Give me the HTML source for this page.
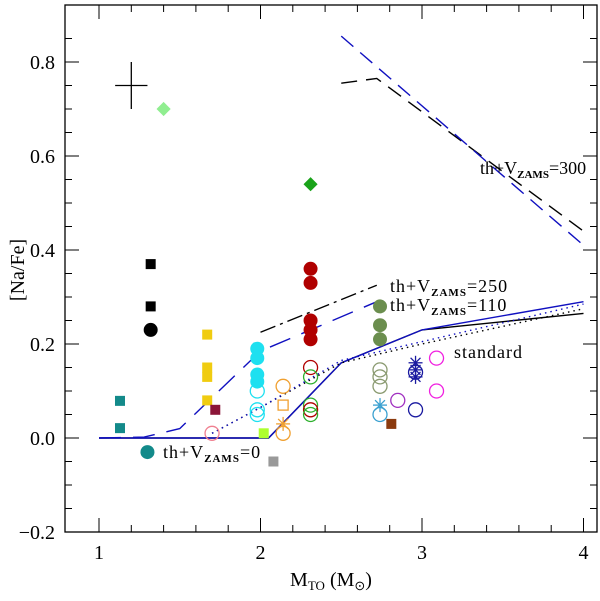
<!DOCTYPE html>
<html><head><meta charset="utf-8"><style>
body{margin:0;background:#fff}
svg{font-family:"Liberation Serif",serif}
</style></head><body>
<svg id="c" width="600" height="596"></svg>
<script>
const xTicks=[1,2,3,4];
const yTicks=[-0.2,0,0.2,0.4,0.6,0.8];
const ptsX=[1.13,1.13,1.32,1.32,1.67,1.67,1.67,1.67,1.72,1.70,1.40,2.31,1.98,1.98,1.98,1.98,1.98,1.98,1.98,2.02,2.08,2.14,2.14,2.14,2.14,2.31,2.31,2.31,2.31,2.31,2.31,2.31,2.31,2.31,2.31,2.74,2.74,2.74,2.74,2.74,2.74,2.74,2.74,2.81,2.85,2.96,2.96,2.96,2.96,2.96,3.09,3.09,1.32,1.30];
const ptsY=[0.079,0.021,0.37,0.28,0.22,0.15,0.13,0.08,0.06,0.01,0.70,0.54,0.19,0.17,0.135,0.12,0.10,0.06,0.05,0.01,-0.05,0.11,0.01,0.07,0.03,0.36,0.33,0.25,0.23,0.21,0.15,0.13,0.07,0.06,0.05,0.28,0.24,0.21,0.145,0.13,0.11,0.07,0.05,0.03,0.08,0.06,0.16,0.145,0.14,0.13,0.17,0.10,0.23,-0.03];
const ptsT=['fs','fs','fs','fs','fs','fs','fs','fs','fs','oc','fd','fd','fc','fc','fc','fc','oc','oc','oc','fs','fs','oc','oc','os','as','fc','fc','fc','fc','fc','oc','oc','oc','oc','oc','fc','fc','fc','oc','oc','oc','as','oc','fs','oc','oc','as','as','oc','as','oc','oc','fc','fc'];
const ptsC=['#138a8a','#138a8a','#000','#000','#f0cc10','#f0cc10','#f0cc10','#f0cc10','#8b1538','#f08090','#90ee90','#1aa31a','#1ee0f0','#1ee0f0','#1ee0f0','#1ee0f0','#1ee0f0','#1ee0f0','#1ee0f0','#adff2f','#999','#f0a030','#f0a030','#f0a030','#f0a030','#b00000','#b00000','#b00000','#b00000','#b00000','#b00000','#2db02d','#2db02d','#b00000','#2db02d','#6b8e4e','#6b8e4e','#6b8e4e','#8a9a70','#8a9a70','#8a9a70','#3aa0d0','#3aa0d0','#8b3a0e','#a030c0','#1a1aa0','#1a1aa0','#1a1aa0','#1a1aa0','#1a1aa0','#f020e0','#f020e0','#000','#138a8a'];
const stdX=[1,2.05,2.5,3,4], stdY=[0,0,0.16,0.23,0.265], stdBY=[0,0,0.16,0.23,0.29];
const dotX=[1.7,2.0,2.5,3,4], dotY=[0.01,0.065,0.16,0.2,0.275], dotBY=[0.01,0.065,0.165,0.205,0.285];
const v110X=[1,1.28,1.5,2.0,2.31,2.72], v110Y=[0,0.002,0.02,0.185,0.23,0.29];
const v250X=[2,2.72], v250Y=[0.225,0.325];
const v300kX=[2.5,2.72,4], v300kY=[0.755,0.765,0.44];
const v300bX=[2.5,4], v300bY=[0.855,0.41];
const L=65,R=597,T=5,B=532;
const sx=v=>99+(v-1)*161.5, sy=v=>438-v*470;
const svg=document.getElementById('c');const NS='http://www.w3.org/2000/svg';
function mk(tag,at,parent){const e=document.createElementNS(NS,tag);for(const k in at)e.setAttribute(k,at[k]);(parent||svg).appendChild(e);return e;}
let fr=mk('rect',{x:L,y:T,width:R-L,height:B-T,fill:'none',stroke:'#000','stroke-width':1.3});


for(let v=1;v<=4.001;v+=0.2){const big=Math.abs(v-Math.round(v))<1e-6;const h=big?14:7;
 mk('line',{x1:sx(v),x2:sx(v),y1:B,y2:B-h,stroke:'#000'});mk('line',{x1:sx(v),x2:sx(v),y1:T,y2:T+h,stroke:'#000'});}
for(let v=-0.2;v<=0.9;v+=0.05){const big=Math.abs(v*10-Math.round(v*10))<1e-6&&Math.round(v*10)%2==0;const h=big?14:7;
 mk('line',{x1:L,x2:L+h,y1:sy(v),y2:sy(v),stroke:'#000'});mk('line',{x1:R,x2:R-h,y1:sy(v),y2:sy(v),stroke:'#000'});}
xTicks.forEach(v=>{const t=mk('text',{x:sx(v),y:559,'text-anchor':'middle','font-size':20});t.textContent=v;

});
yTicks.forEach(v=>{const t=mk('text',{x:55,y:sy(v)+7,'text-anchor':'end','font-size':20});t.textContent=(v<0?'\u2212'+(-v).toFixed(1):v.toFixed(1));

});
let xl=mk('text',{x:331,y:586,'text-anchor':'middle','font-size':20});xl.innerHTML='M<tspan font-size="13" dy="4">TO</tspan><tspan dy="-4"> (M</tspan><tspan font-size="13" dy="4">⊙</tspan><tspan dy="-4">)</tspan>';


let yl=mk('text',{x:0,y:0,'text-anchor':'middle','font-size':20,transform:'translate(24,270) rotate(-90)'});yl.textContent='[Na/Fe]';


function line(xs,ys,col,dash,name){const p=mk('polyline',{points:xs.map((x,i)=>sx(x)+','+sy(ys[i])).join(' '),fill:'none',stroke:col,'stroke-width':1.4,'stroke-dasharray':dash||'none'});

}
line(stdX,stdY,'#000','', 'standard-line-black');
line(stdX,stdBY,'#1010c0','', 'standard-line-blue');
line(dotX,dotY,'#000','1.5 4','dotted-line-black');
line(dotX,dotBY,'#1010c0','1.5 4','dotted-line-blue');
line(v110X,v110Y,'#1010c0','22 12','vzams-110-line');
line(v250X,v250Y,'#000','16 5 3 5','vzams-250-line');
line(v300kX,v300kY,'#000','16 9','vzams-300-black');
line(v300bX,v300bY,'#1010c0','16 9','vzams-300-blue');
ptsX.forEach((x,i)=>{const cx=sx(x),cy=sy(ptsY[i]),c=ptsC[i],t=ptsT[i];let e;
 if(t=='fs')e=mk('rect',{x:cx-5,y:cy-5,width:10,height:10,fill:c});
 else if(t=='os')e=mk('rect',{x:cx-5,y:cy-5,width:10,height:10,fill:'none',stroke:c,'stroke-width':1.3});
 else if(t=='fc')e=mk('circle',{cx,cy,r:7,fill:c});
 else if(t=='oc')e=mk('circle',{cx,cy,r:7,fill:'none',stroke:c,'stroke-width':1.3});
 else if(t=='fd')e=mk('rect',{x:cx-5,y:cy-5,width:10,height:10,fill:c,transform:`rotate(45 ${cx} ${cy})`});
 else {e=mk('g',{stroke:c,'stroke-width':1.3});for(let a=0;a<180;a+=45){const r=a*Math.PI/180;mk('line',{x1:cx-7*Math.cos(r),y1:cy-7*Math.sin(r),x2:cx+7*Math.cos(r),y2:cy+7*Math.sin(r)},e);}}
 
 });
let eb=mk('g',{stroke:'#000','stroke-width':1.3});mk('line',{x1:sx(1.1),x2:sx(1.3),y1:sy(0.75),y2:sy(0.75)},eb);mk('line',{x1:sx(1.2),x2:sx(1.2),y1:sy(0.8),y2:sy(0.7)},eb);


function lab(x,y,txt,name,ls){const t=mk('text',{x,y,'font-size':18,'letter-spacing':ls});t.innerHTML=txt;

}
const V='th+V<tspan font-size="11" dy="4" font-weight="bold">ZAMS</tspan><tspan dy="-4">';
lab(163,458,V+'=0</tspan>','label-v0','1');
lab(390,292,V+'=250</tspan>','label-v250','1');
lab(390,311,V+'=110</tspan>','label-v110','1');
lab(454,358,'standard','label-standard','1');
lab(480,174,V+'=300</tspan>','label-v300','0');
</script></body></html>
